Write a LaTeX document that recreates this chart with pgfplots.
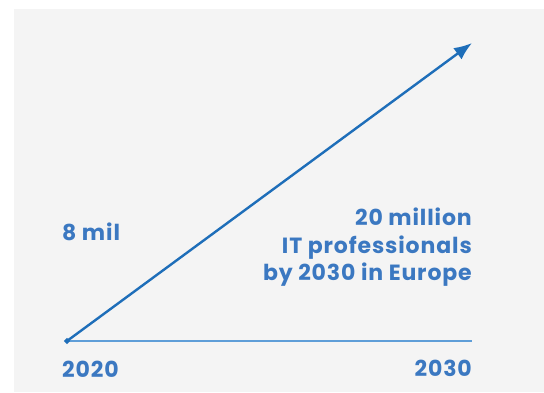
\documentclass[border=0pt]{standalone}
\usepackage{pgfplots}
\pgfplotsset{compat=1.18}
\usetikzlibrary{arrows.meta}
\usepackage{fontspec}
\setmainfont{Poppins}[LetterSpace=4]
\definecolor{bg}{HTML}{F4F4F4}
\definecolor{txt}{RGB}{59,120,193}
\definecolor{arr}{RGB}{30,110,185}
\definecolor{base}{RGB}{95,158,216}
\begin{document}
\begin{tikzpicture}[x=1pt,y=1pt]
\fill[white] (0,0) rectangle (544,392);
\fill[bg] (14,0) rectangle (544,383);
\begin{axis}[
  at={(67pt,51pt)}, anchor=south west,
  scale only axis, width=405pt, height=298pt,
  xmin=2020, xmax=2030, ymin=8, ymax=20,
  enlargelimits=false, hide axis, clip=false]
\addplot[base, line width=1.5pt] coordinates {(2020,8) (2030,8)};
\addplot[arr, line width=2.4pt, -{Latex[length=18pt,width=14pt]},
  mark=*, mark indices={1}, mark options={arr, scale=0.7}]
  coordinates {(2020,8) (2030,20)};
\end{axis}
\begin{scope}[every node/.style={text=txt, font=\bfseries\fontsize{22}{27.5}\selectfont, inner sep=0pt}]
\node[anchor=base west] at (62,152) {8 mil};
\node[anchor=base west] at (62,15) {2020};
\node[anchor=base east] at (472,16) {2030};
\node[anchor=base east] at (472,167) {20 million};
\node[anchor=base east] at (472,139) {IT professionals};
\node[anchor=base east] at (472,112) {by 2030 in Europe};
\end{scope}
\end{tikzpicture}
\end{document}
